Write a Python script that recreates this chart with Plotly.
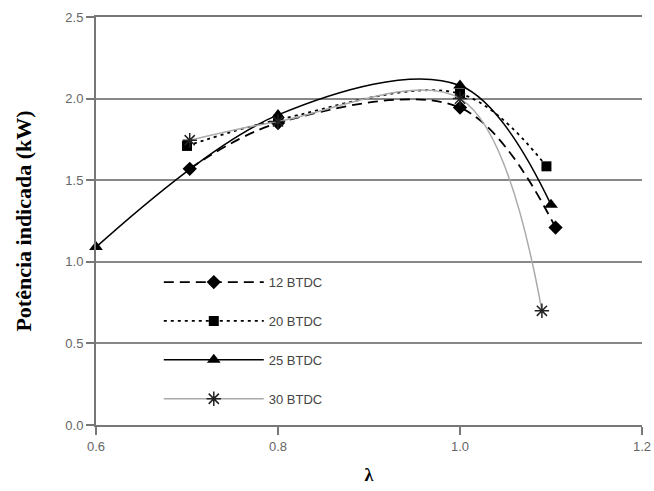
import plotly.graph_objects as go

series_names = ["12 BTDC", "20 BTDC", "25 BTDC", "30 BTDC"]
lam_12 = [0.703, 0.80, 1.0, 1.105]
pot_12 = [1.57, 1.85, 1.945, 1.21]
lam_20 = [0.70, 0.80, 1.0, 1.095]
pot_20 = [1.71, 1.87, 2.03, 1.585]
lam_25 = [0.60, 0.80, 1.0, 1.10]
pot_25 = [1.09, 1.90, 2.08, 1.35]
lam_30 = [0.703, 0.80, 1.0, 1.09]
pot_30 = [1.745, 1.86, 2.0, 0.70]

x_ticks = [0.6, 0.8, 1.0, 1.2]
x_tick_labels = ["0.6", "0.8", "1.0", "1.2"]
y_ticks = [0.0, 0.5, 1.0, 1.5, 2.0, 2.5]
y_tick_labels = ["0.0", "0.5", "1.0", "1.5", "2.0", "2.5"]

styles = [
    dict(color="black", dash="10px,6px", width=1.8, symbol="diamond", msize=11, mcolor="black"),
    dict(color="black", dash="3px,4px", width=1.8, symbol="square", msize=10, mcolor="black"),
    dict(color="black", dash="solid", width=1.5, symbol="triangle-up", msize=12, mcolor="black"),
    dict(color="#aaaaaa", dash="solid", width=1.5, symbol="asterisk-open", msize=12, mcolor="#222222"),
]
xs = [lam_12, lam_20, lam_25, lam_30]
ys = [pot_12, pot_20, pot_25, pot_30]

fig = go.Figure()
for i, (name, x, y, s) in enumerate(zip(series_names, xs, ys, styles)):
    marker = dict(symbol=s["symbol"], size=s["msize"], color=s["mcolor"])
    if s["symbol"] == "asterisk-open":
        marker["line"] = dict(color=s["mcolor"], width=1.5)
    fig.add_trace(go.Scatter(
        x=x, y=y, name=name, mode="lines+markers", legendgroup=f"g{i}",
        line=dict(color=s["color"], dash=s["dash"], width=s["width"], shape="spline", smoothing=1.0),
        marker=marker, cliponaxis=False,
    ))

# white panel behind the legend that interrupts the 0.5 gridline, as in the reference
fig.add_shape(type="rect", xref="paper", yref="paper", x0=0.077, x1=0.483, y0=0.03, y1=0.39,
              fillcolor="white", line=dict(width=0), layer="between")

fig.update_layout(
    width=654, height=491,
    margin=dict(l=96, r=12, t=17, b=66),
    paper_bgcolor="white", plot_bgcolor="white",
    font=dict(family="Liberation Sans, Arial", size=12, color="#555555"),
    legend=dict(
        x=0.115, y=0.387, xanchor="left", yanchor="top",
        bgcolor="rgba(255,255,255,0)", borderwidth=0,
        font=dict(family="Liberation Sans, Arial", size=13, color="#444444"),
        itemwidth=100, tracegroupgap=19,
    ),
    xaxis=dict(
        range=[0.6, 1.2], tickvals=x_ticks, ticktext=x_tick_labels, automargin=False,
        showgrid=False, zeroline=False,
        showline=True, linecolor="#777777", linewidth=2, mirror=True,
        ticks="outside", ticklen=8, tickcolor="#777777", tickwidth=1.5,
        tickfont=dict(size=13, color="#666666"),
        title=dict(text="<b>λ</b>", font=dict(family="Liberation Serif", size=18, color="black"), standoff=16),
    ),
    yaxis=dict(
        range=[0, 2.5], tickvals=y_ticks, ticktext=y_tick_labels, automargin=False,
        showgrid=True, gridcolor="#888888", gridwidth=2, zeroline=False,
        showline=True, linecolor="#777777", linewidth=2,
        ticks="outside", ticklen=8, tickcolor="#777777", tickwidth=1.5,
        tickfont=dict(size=13, color="#666666"),
        title=dict(text="<b>Potência indicada (kW)</b>", font=dict(family="Liberation Serif", size=22, color="black"), standoff=28),
    ),
)

fig.write_html("out.html")
